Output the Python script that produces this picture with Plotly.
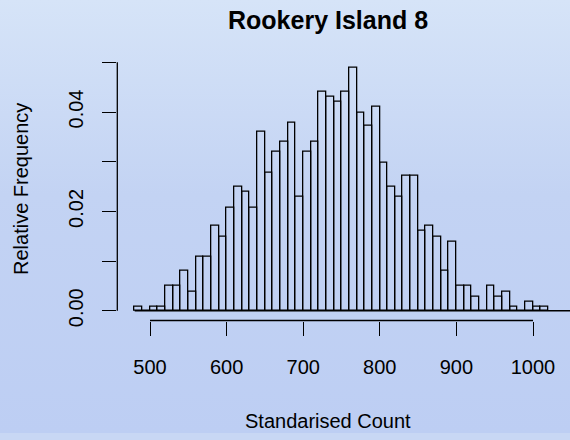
import base64
import plotly.graph_objects as go

# Histogram of standardised counts (bins of width 10 starting at 480)
bin_start = 480
bin_width = 10
rel_freq = [
    0.0007, 0.0, 0.0007, 0.0007, 0.0050, 0.0050, 0.0080, 0.0038, 0.0108, 0.0108,
    0.0170, 0.0149, 0.0208, 0.0250, 0.0239, 0.0208, 0.0360, 0.0277, 0.0320, 0.0340,
    0.0378, 0.0229, 0.0320, 0.0340, 0.0441, 0.0430, 0.0421, 0.0441, 0.0489, 0.0399,
    0.0372, 0.0410, 0.0298, 0.0250, 0.0229, 0.0271, 0.0271, 0.0160, 0.0170, 0.0149,
    0.0080, 0.0139, 0.0050, 0.0050, 0.0029, 0.0, 0.0050, 0.0029, 0.0038, 0.0008,
    0.0, 0.0018, 0.0008, 0.0008,
]
x_ticks = [500, 600, 700, 800, 900, 1000]
y_ticks = [0.00, 0.01, 0.02, 0.03, 0.04, 0.05]
y_tick_text = ["0.00", "", "0.02", "", "0.04", ""]

title_text = "Rookery Island 8"
x_title = "Standarised Count"
y_title = "Relative Frequency"

W, H = 570, 440
FONT = "Liberation Sans, Arial, Helvetica, sans-serif"

bin_centers = [bin_start + bin_width * (i + 0.5) for i in range(len(rel_freq))]

# plot region in pixels
left_px, right_px = 117.3, 570.0
top_px, bottom_px = 58.8, 325.7
x_range = [457.3, 1048.3]
y_range = [-0.00196, 0.0509]
xd = [left_px / W, right_px / W]
yd = [1 - bottom_px / H, 1 - top_px / H]

# vertical gradient backdrop
svg = (
    f'<svg xmlns="http://www.w3.org/2000/svg" width="{W}" height="{H}">'
    '<defs><linearGradient id="g" x1="0" y1="0" x2="0" y2="1">'
    '<stop offset="0" stop-color="#d6e4f8"/>'
    '<stop offset="0.45" stop-color="#c3d3f3"/>'
    '<stop offset="1" stop-color="#bdcef3"/>'
    '</linearGradient></defs>'
    f'<rect width="{W}" height="{H}" fill="url(#g)"/></svg>'
)
bg_src = "data:image/svg+xml;base64," + base64.b64encode(svg.encode()).decode()

fig = go.Figure()
fig.add_trace(go.Bar(
    x=bin_centers, y=rel_freq, width=bin_width,
    marker=dict(color="rgba(0,0,0,0)", line=dict(color="black", width=1.3)),
    hoverinfo="x+y",
))

line_style = dict(color="black", width=1.3)
shapes = [
    # baseline under the bars
    dict(type="line", xref="x", yref="y", x0=bin_start, x1=x_range[1], y0=0, y1=0,
         line=line_style),
    # x axis line
    dict(type="line", xref="x", yref="paper", x0=x_ticks[0], x1=x_ticks[-1],
         y0=yd[0], y1=yd[0], line=line_style),
    # y axis line
    dict(type="line", xref="paper", yref="y", x0=xd[0], x1=xd[0],
         y0=y_ticks[0], y1=y_ticks[-1], line=line_style),
]

annotations = [
    dict(text=f"<b>{title_text}</b>", x=328 / W, y=1 - 20 / H, xref="paper", yref="paper",
         showarrow=False, font=dict(size=25, color="black", family=FONT),
         xanchor="center", yanchor="middle"),
    dict(text=x_title, x=328 / W, y=1 - 428 / H, xref="paper", yref="paper",
         showarrow=False, font=dict(size=20, color="black", family=FONT),
         xanchor="center", yanchor="middle"),
    dict(text=y_title, x=21 / W, y=1 - 192 / H, xref="paper", yref="paper",
         showarrow=False, textangle=-90, font=dict(size=20, color="black", family=FONT),
         xanchor="center", yanchor="middle"),
]

fig.update_layout(
    width=W, height=H,
    margin=dict(l=0, r=0, t=0, b=0),
    paper_bgcolor="#c8d7f4",
    plot_bgcolor="rgba(0,0,0,0)",
    showlegend=False,
    bargap=0,
    images=[dict(source=bg_src, xref="paper", yref="paper", x=0, y=1,
                 sizex=1, sizey=1, sizing="stretch", layer="below")],
    shapes=shapes,
    annotations=annotations,
    xaxis=dict(
        domain=xd, range=x_range, tickvals=x_ticks,
        ticks="outside", ticklen=14, tickwidth=1.3, tickcolor="black",
        showgrid=False, zeroline=False, showline=False,
        tickfont=dict(size=20, color="black", family=FONT),
        ticklabelstandoff=14,
    ),
    yaxis=dict(
        domain=yd, range=y_range, tickvals=y_ticks, ticktext=y_tick_text,
        ticks="outside", ticklen=14, tickwidth=1.3, tickcolor="black",
        showgrid=False, zeroline=False, showline=False, tickangle=-90,
        tickfont=dict(size=20, color="black", family=FONT),
        ticklabelstandoff=11,
    ),
)

fig.write_html("out.html")
